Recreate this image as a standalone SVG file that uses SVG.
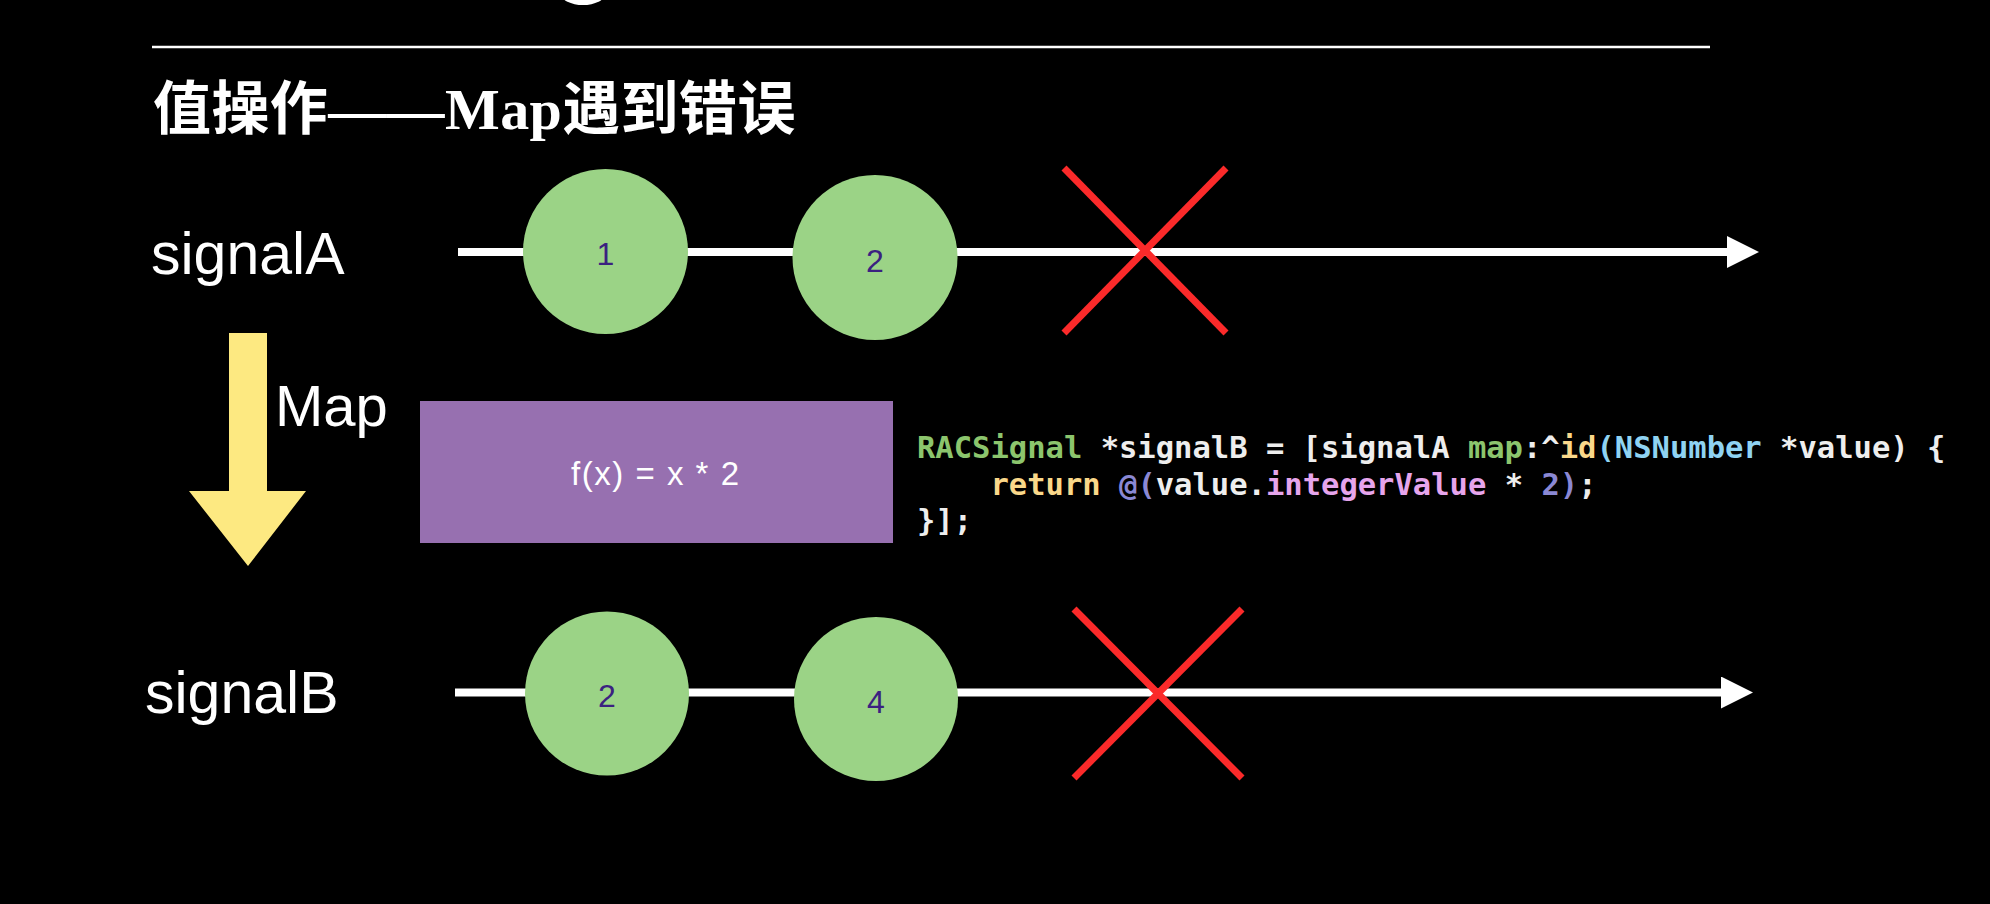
<svg xmlns="http://www.w3.org/2000/svg" width="1990" height="904" viewBox="0 0 1990 904">
  <defs>
    <style>
      .bg { fill: #000000; }
      .label { font-family: "Liberation Sans", Arial, sans-serif; fill: #ffffff; }
      .title { font-family: "Liberation Serif", "Noto Sans CJK SC", serif; font-weight: bold; fill: #ffffff; font-size: 58px; letter-spacing: 0.4px; }
      .event { fill: #9bd386; }
      .num { font-family: "Liberation Sans", Arial, sans-serif; font-size: 32px; fill: #3b2180; text-anchor: middle; }
      .timeline { stroke: #ffffff; stroke-width: 8; fill: none; }
      .err { stroke: #fb2a2a; stroke-width: 7; fill: none; }
      .code { font-family: "DejaVu Sans Mono", "Liberation Mono", monospace; font-weight: bold; font-size: 30.5px; fill: #eeeeee; white-space: pre; }
      .c-green { fill: #8cc56d; }
      .c-yellow { fill: #fad88a; }
      .c-blue { fill: #8fd3f2; }
      .c-purple { fill: #8a88d4; }
      .c-pink { fill: #e6a5ec; }
    </style>
    <marker id="arrowWhite" markerUnits="userSpaceOnUse" markerWidth="34" markerHeight="34" refX="2" refY="16" orient="auto">
      <polygon points="0,0 32,16 0,32" fill="#ffffff"/>
    </marker>
  </defs>

  <rect class="bg" x="0" y="0" width="1990" height="904"/>

  <!-- top fragment and rule -->
  <ellipse cx="583" cy="-6" rx="22" ry="11" fill="#ffffff"/>
  <line x1="152" y1="47" x2="1710" y2="47" stroke="#ffffff" stroke-width="2.5"/>

  <!-- title -->
  <g id="title">
    <text class="title" x="153" y="129">值操作——Map遇到错误</text>
  </g>

  <!-- connectors -->
  <g id="connectors">
    <line class="timeline" x1="458" y1="252" x2="1729" y2="252" marker-end="url(#arrowWhite)"/>
    <line class="timeline" x1="455" y1="692.5" x2="1723" y2="692.5" marker-end="url(#arrowWhite)"/>
    <polygon id="map-arrow" points="229,333 267,333 267,491 306,491 248,566 189,491 229,491" fill="#fde981"/>
  </g>

  <!-- labels -->
  <g id="label-signalA">
    <text class="label" x="151" y="274" font-size="59">signalA</text>
  </g>
  <g id="label-map">
    <text class="label" x="275" y="426" font-size="58">Map</text>
  </g>
  <g id="label-signalB">
    <text class="label" x="145" y="713" font-size="59">signalB</text>
  </g>

  <!-- signal A events -->
  <g id="a-event-1">
    <circle class="event" cx="605.5" cy="251.5" r="82.5"/>
    <text class="num" x="605.5" y="265">1</text>
  </g>
  <g id="a-event-2">
    <circle class="event" cx="875" cy="257.5" r="82.5"/>
    <text class="num" x="875" y="272">2</text>
  </g>
  <g id="a-error">
    <line class="err" x1="1064" y1="168" x2="1226" y2="333"/>
    <line class="err" x1="1226" y1="168" x2="1064" y2="333"/>
  </g>

  <!-- map function box -->
  <g id="map-function">
    <rect x="420" y="401" width="473" height="142" fill="#9770b0"/>
    <text class="label" x="655" y="485" font-size="33" text-anchor="middle" textLength="168">f(x) = x * 2</text>
  </g>

  <!-- code -->
  <g id="code">
    <text class="code" x="917" y="458"><tspan class="c-green">RACSignal</tspan> *signalB = [signalA <tspan class="c-green">map</tspan>:^<tspan class="c-yellow">id</tspan><tspan class="c-blue">(NSNumber</tspan> *value) {</text>
    <text class="code" x="917" y="494.5">    <tspan class="c-yellow">return</tspan> <tspan class="c-purple">@(</tspan>value.<tspan class="c-pink">integerValue</tspan> * <tspan class="c-purple">2)</tspan>;</text>
    <text class="code" x="917" y="531">}];</text>
  </g>

  <!-- signal B events -->
  <g id="b-event-1">
    <circle class="event" cx="607" cy="693.5" r="82"/>
    <text class="num" x="607" y="707">2</text>
  </g>
  <g id="b-event-2">
    <circle class="event" cx="876" cy="699" r="82"/>
    <text class="num" x="876" y="713">4</text>
  </g>
  <g id="b-error">
    <line class="err" x1="1074" y1="609" x2="1242" y2="778"/>
    <line class="err" x1="1242" y1="609" x2="1074" y2="778"/>
  </g>
</svg>
